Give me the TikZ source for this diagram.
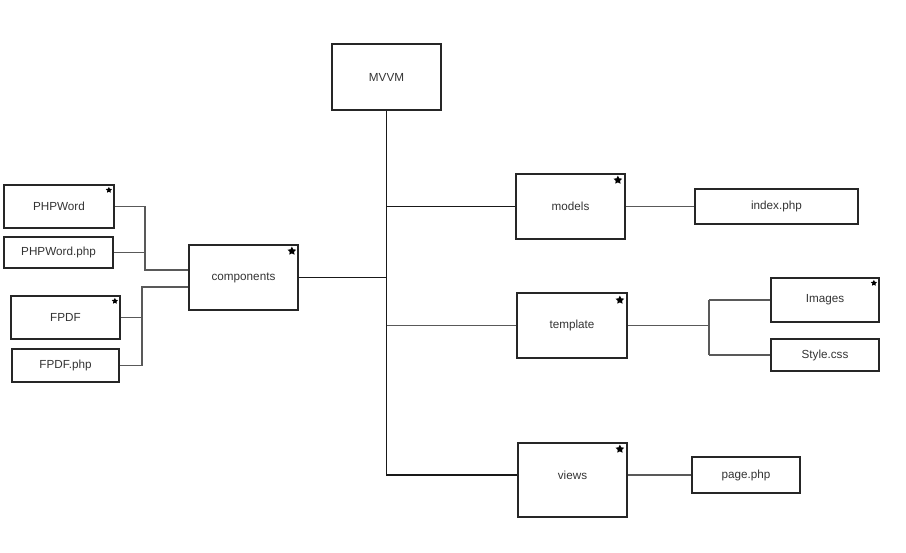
\documentclass[tikz,border=0pt]{standalone}
\usepackage{fontspec}
\setmainfont{Liberation Sans}
\usetikzlibrary{positioning,shapes.geometric}

\begin{document}
\begin{tikzpicture}[x=1pt, y=-1pt,
    box/.style={draw=black!85, line width=1.8pt, text=black!80, font=\fontsize{11.7}{13}\selectfont, inner sep=0pt},
    conn/.style={draw=black!65, line width=1.9pt},
    starmark/.style={star, star points=5, star point ratio=2, fill=black, inner sep=0pt, minimum size=#1},
    starmark/.default=9pt]
    \useasboundingbox (0,0) rectangle (906,553);
    % boxes
    \node[box, minimum width=109pt, minimum height=66pt] (mvvm) at (386.5,77) {MVVM};
    \node[box, minimum width=110pt, minimum height=43pt] (phpword) at (59,206.5) {PHPWord};
    \node[box, minimum width=109pt, minimum height=31pt] (phpwordphp) at (58.5,252.5) {PHPWord.php};
    \node[box, minimum width=109pt, minimum height=43pt] (fpdf) at (65.5,317.5) {FPDF};
    \node[box, minimum width=107pt, minimum height=33pt] (fpdfphp) at (65.5,365.5) {FPDF.php};
    \node[box, minimum width=109pt, minimum height=65pt] (components) at (243.5,277.5) {components};
    \node[box, minimum width=109pt, minimum height=65pt] (models) at (570.5,206.5) {models};
    \node[box, minimum width=163pt, minimum height=35pt] (indexphp) at (776.5,206.5) {index.php};
    \node[box, minimum width=110pt, minimum height=65pt] (template) at (572,325.5) {template};
    \node[box, minimum width=108pt, minimum height=44pt] (images) at (825,300) {Images};
    \node[box, minimum width=108pt, minimum height=32pt] (stylecss) at (825,355) {Style.css};
    \node[box, minimum width=109pt, minimum height=74pt] (views) at (572.5,480) {};
    \node[text=black!80, font=\fontsize{11.7}{13}\selectfont] (viewstext) at (572.5,475) {views};
    \node[box, minimum width=108pt, minimum height=36pt] (pagephp) at (746,475) {page.php};

    % stars
    \node[starmark=6.5pt, xshift=-6pt, yshift=-6pt] (s1) at (phpword.north east) {};
    \node[starmark=6.5pt, xshift=-6pt, yshift=-6pt] (s2) at (fpdf.north east) {};
    \node[starmark=6.5pt, xshift=-6pt, yshift=-6pt] (s3) at (images.north east) {};
    \node[starmark, xshift=-7pt, yshift=-7pt] (s4) at (components.north east) {};
    \node[starmark, xshift=-8pt, yshift=-7pt] (s5) at (models.north east) {};
    \node[starmark, xshift=-8pt, yshift=-8pt] (s6) at (template.north east) {};
    \node[starmark, xshift=-8pt, yshift=-7pt] (s7) at (views.north east) {};

    % trunk
    \coordinate (trunkend) at (mvvm.south |- viewstext);
    \draw[conn, draw=black!90] (mvvm.south) -- (trunkend) -- (trunkend -| views.west);
    \draw[conn, draw=black!90] (mvvm.south |- models) -- (models.west);
    \draw[conn] (mvvm.south |- template) -- (template.west);
    \draw[conn, draw=black!90] (components.east) -- (components.east -| mvvm.south);

    % right side
    \draw[conn] (models.east) -- (indexphp.west);
    \coordinate (tsplit) at (template.east -| 709,0);
    \draw[conn] (template.east) -- (tsplit);
    \draw[conn] (tsplit |- images) -- (tsplit |- stylecss);
    \draw[conn] (tsplit |- images) -- (images.west);
    \draw[conn] (tsplit |- stylecss) -- (stylecss.west);
    \draw[conn] (viewstext -| views.east) -- (pagephp.west);

    % left side
    \coordinate (wsplit) at (145,270);
    \coordinate (fsplit) at (142,287);
    \draw[conn] (phpword.east) -| (wsplit) -- (wsplit -| components.west);
    \draw[conn] (phpwordphp.east) -- (phpwordphp.east -| wsplit);
    \draw[conn] (fsplit -| components.west) -- (fsplit) |- (fpdfphp.east);
    \draw[conn] (fpdf.east) -- (fpdf.east -| fsplit);
\end{tikzpicture}
\end{document}
